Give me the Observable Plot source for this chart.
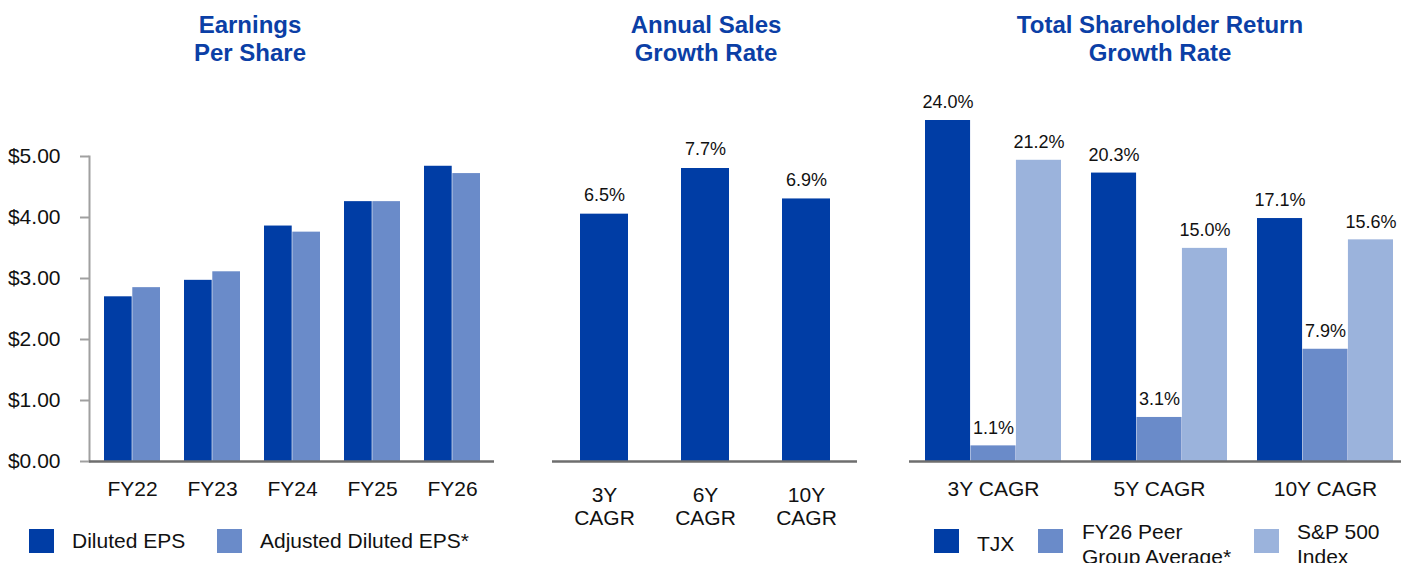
<!DOCTYPE html>
<html>
<head>
<meta charset="utf-8">
<script src="https://cdn.jsdelivr.net/npm/d3@7"></script>
<script src="https://cdn.jsdelivr.net/npm/@observablehq/plot@0.6"></script>
<style>
  body { margin: 0; background: #fff; font-family: "Liberation Sans", Arial, sans-serif; }
  #wrap { position: relative; width: 1401px; height: 563px; overflow: hidden; background: #fff; }
  .panel { position: absolute; top: 0; }
  .title { position: absolute; top: 11px; width: 400px; text-align: center; font-weight: bold;
           font-size: 24px; line-height: 28px; color: #0b3fa6; }
  .sw { position: absolute; width: 25px; height: 24px; }
  .lt { position: absolute; font-size: 21px; line-height: 25px; color: #111; white-space: nowrap; }
</style>
</head>
<body>
<div id="wrap"></div>
<script>
// ---------- data ----------
const years = ["FY22", "FY23", "FY24", "FY25", "FY26"];
const dilutedEPS = [2.70, 2.97, 3.86, 4.26, 4.84];
const adjustedEPS = [2.85, 3.11, 3.76, 4.26, 4.72];
const epsTicks = [0, 1, 2, 3, 4, 5];

const salesPeriods = ["3Y CAGR", "6Y CAGR", "10Y CAGR"];
const salesGrowth = [6.5, 7.7, 6.9];

const tsrPeriods = ["3Y CAGR", "5Y CAGR", "10Y CAGR"];
const tsrTJX = [24.0, 20.3, 17.1];
const tsrPeer = [1.1, 3.1, 7.9];
const tsrSP500 = [21.2, 15.0, 15.6];

const titles = [["Earnings", "Per Share"], ["Annual Sales", "Growth Rate"], ["Total Shareholder Return", "Growth Rate"]];
const epsLegend = ["Diluted EPS", "Adjusted Diluted EPS*"];
const tsrLegend = ["TJX", "FY26 Peer\nGroup Average*", "S&P 500\nIndex"];

const cDark = "#003DA5", cMid = "#6A8BC9", cLight = "#9BB3DC";
const baseColor = "#6e6e6e";
const font = {fontFamily: "'Liberation Sans', Arial, sans-serif", fontSize: "21px", color: "#111", background: "transparent"};

function bandwidth(len, n, pi, po) { const step = len / (n - pi + 2 * po); return step * (1 - pi); }

const wrap = document.getElementById("wrap");
function place(el, left) { el.classList.add("panel"); el.style.left = left + "px"; wrap.appendChild(el); }

// ---------- Panel 1: EPS ----------
{
  const W = 500, H = 530, mL = 89, mR = 6, pi = 0.3, po = 0.155;
  const bw = bandwidth(W - mL - mR, years.length, pi, po);
  const rows = years.map((y, i) => ({year: y, diluted: dilutedEPS[i], adjusted: adjustedEPS[i]}));
  const p = Plot.plot({
    width: W, height: H, marginLeft: mL, marginRight: mR, marginTop: 156, marginBottom: H - 461,
    style: font,
    x: {domain: years, paddingInner: pi, paddingOuter: po, axis: null},
    y: {domain: [0, 5], axis: null},
    marks: [
      Plot.barY(rows, {x: "year", y: "diluted", fill: cDark, insetRight: bw / 2}),
      Plot.barY(rows, {x: "year", y: "adjusted", fill: cMid, insetLeft: bw / 2}),
      Plot.frame({anchor: "left", stroke: "#a0a0a0", strokeWidth: 2}),
      Plot.axisY({ticks: epsTicks, tickSize: 9, tickPadding: 20, tickFormat: d => "$" + d.toFixed(2),
                  stroke: "#a0a0a0", strokeWidth: 2, fill: "#111", fontSize: 21, label: null}),
      Plot.ruleY([0], {stroke: baseColor, strokeWidth: 2.5}),
      Plot.axisX({tickSize: 0, tickPadding: 20, fill: "#111", fontSize: 21, label: null})
    ]
  });
  place(p, 0);
}

// ---------- Panel 2: Sales growth ----------
{
  const W = 360, H = 530, mL = 32, mR = 23;
  const rows = salesPeriods.map((s, i) => ({period: s, v: salesGrowth[i]}));
  const p = Plot.plot({
    width: W, height: H, marginLeft: mL, marginRight: mR, marginTop: 168, marginBottom: H - 461,
    style: font,
    x: {domain: salesPeriods, paddingInner: 0.527, paddingOuter: 0.266, axis: null},
    y: {domain: [0, 7.7], axis: null},
    marks: [
      Plot.barY(rows, {x: "period", y: "v", fill: cDark}),
      Plot.text(rows, {x: "period", y: "v", text: d => d.v.toFixed(1) + "%", dy: -19, fontSize: 18, fill: "#111"}),
      Plot.ruleY([0], {stroke: baseColor, strokeWidth: 2.5}),
      Plot.axisX({tickSize: 0, tickPadding: 24, tickFormat: d => d.replace(" ", "\n"), lineHeight: 1.1,
                  fill: "#111", fontSize: 21, label: null})
    ]
  });
  place(p, 520);
}

// ---------- Panel 3: TSR ----------
{
  const W = 521, H = 530, mL = 29, mR = 0, pi = 0.18, po = 0.069;
  const bw = bandwidth(W - mL - mR, tsrPeriods.length, pi, po);
  const series = [
    {key: "TJX", vals: tsrTJX, fill: cDark},
    {key: "Peer", vals: tsrPeer, fill: cMid},
    {key: "SP500", vals: tsrSP500, fill: cLight}
  ];
  const marks = [];
  series.forEach((s, i) => {
    const rows = tsrPeriods.map((p, j) => ({period: p, v: s.vals[j]}));
    marks.push(Plot.barY(rows, {x: "period", y: "v", fill: s.fill, insetLeft: i * bw / 3, insetRight: (2 - i) * bw / 3}));
    marks.push(Plot.text(rows, {x: "period", y: "v", text: d => d.v.toFixed(1) + "%", dx: (i - 1) * bw / 3, dy: -18, fontSize: 18, fill: "#111"}));
  });
  marks.push(Plot.ruleY([0], {stroke: baseColor, strokeWidth: 2.5}));
  marks.push(Plot.axisX({tickSize: 0, tickPadding: 20, fill: "#111", fontSize: 21, label: null}));
  const p = Plot.plot({
    width: W, height: H, marginLeft: mL, marginRight: mR, marginTop: 120, marginBottom: H - 461,
    style: font,
    x: {domain: tsrPeriods, paddingInner: pi, paddingOuter: po, align: 0.65, axis: null},
    y: {domain: [0, 24], axis: null},
    marks
  });
  place(p, 880);
}

// ---------- Titles ----------
[250, 706, 1160].forEach((cx, i) => {
  const d = document.createElement("div");
  d.className = "title";
  d.style.left = (cx - 200) + "px";
  d.innerHTML = titles[i].join("<br>");
  wrap.appendChild(d);
});

// ---------- Legends ----------
function legendItem(x, color, label, textX, top) {
  const s = document.createElement("div");
  s.className = "sw"; s.style.left = x + "px"; s.style.top = "529px"; s.style.background = color;
  wrap.appendChild(s);
  const t = document.createElement("div");
  t.className = "lt"; t.style.left = textX + "px"; t.style.top = top + "px";
  t.innerHTML = label.replace("\n", "<br>");
  wrap.appendChild(t);
}
legendItem(29, cDark, epsLegend[0], 72, 528);
legendItem(217, cMid, epsLegend[1], 260, 528);
legendItem(934, cDark, tsrLegend[0], 977, 531);
legendItem(1038, cMid, tsrLegend[1], 1082, 519);
legendItem(1254, cLight, tsrLegend[2], 1297, 519);
</script>
</body>
</html>
